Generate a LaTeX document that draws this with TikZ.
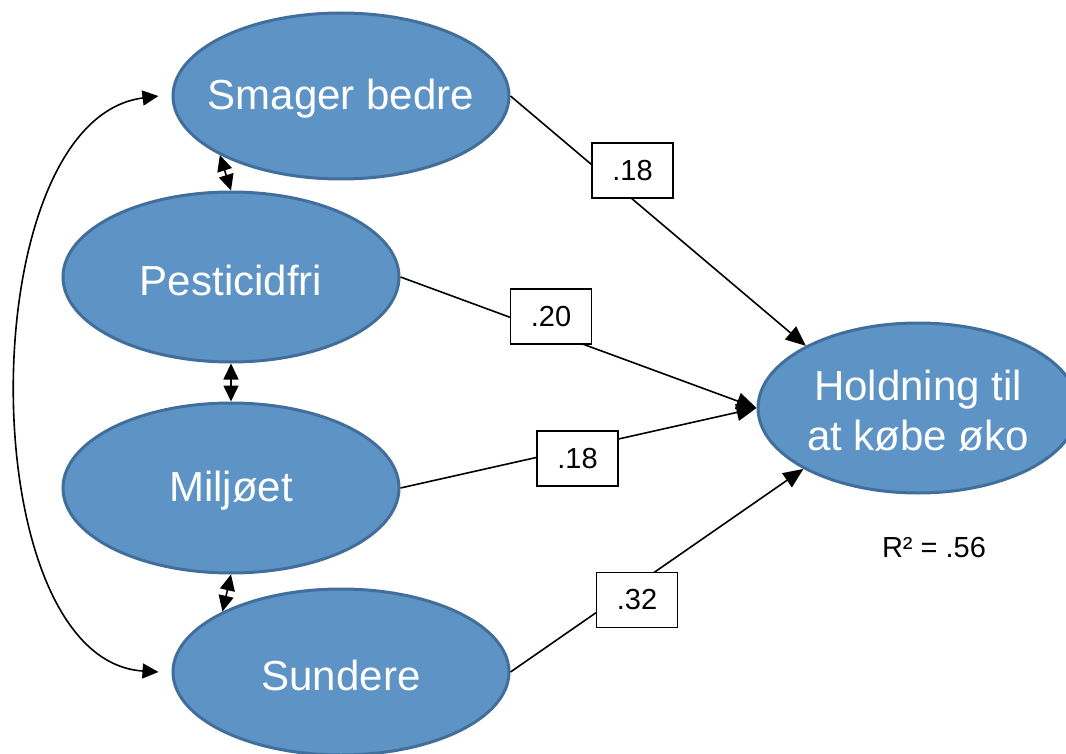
\documentclass[tikz,border=0pt]{standalone}
\usepackage{fontspec}
\setmainfont{Liberation Sans}
\usetikzlibrary{shapes.geometric,arrows.meta}
\definecolor{ellfill}{RGB}{94,147,198}
\definecolor{elldraw}{RGB}{66,110,156}
\begin{document}
\begin{tikzpicture}[x=1pt,y=-1pt,
 latent/.style={ellipse, draw=elldraw, fill=ellfill, line width=3pt, inner sep=0pt, minimum width=336pt, minimum height=166pt},
 lbl/.style={text=white, font=\fontsize{42}{50}\selectfont, align=center, yshift=-3pt},
 coef/.style={draw=black, fill=white, line width=1.2pt, minimum width=81pt, minimum height=55pt, inner sep=0pt, font=\fontsize{29}{34}\selectfont},
 effect/.style={line width=1.6pt, -{Triangle[length=20pt,width=17pt]}},
 cov/.style={line width=1.6pt, {Triangle[length=16pt,width=15pt]}-{Triangle[length=16pt,width=15pt]}}
]
\useasboundingbox (0,0) rectangle (1066,754);
\node[latent, label={[lbl]center:Smager bedre}] (smager) at (341,96) {};
\node[latent, minimum height=170pt, label={[lbl]center:Pesticidfri}] (pesti) at (231,277) {};
\node[latent, minimum height=170pt, label={[lbl]center:Miljøet}] (milj) at (231,488) {};
\node[latent, label={[lbl]center:Sundere}] (sund) at (341,672) {};
\node[latent, minimum width=320pt, minimum height=170pt, label={[lbl]center:{Holdning til\\at købe øko}}] (hold) at (918,408) {};
\node[font=\fontsize{29}{34}\selectfont] (r2) at (934,548) {R² = .56};

\draw[effect] (smager.east) -- (hold.151);
\draw[effect] (pesti.east) -- (hold.west);
\draw[effect] (milj.east) -- (hold.west);
\draw[effect] (sund.east) -- (hold.208);

\draw[cov] (smager.206) -- (pesti.north);
\draw[cov] (pesti.south) -- (milj.north);
\draw[cov] (milj.south) -- (sund.153);
\draw[cov] ([xshift=-13pt]smager.west) .. controls (-30,120) and (-30,660) .. ([xshift=-13pt]sund.west);

\node[coef] (c1) at (632.5,170.5) {.18};
\node[coef] (c2) at (551,316.5) {.20};
\node[coef] (c3) at (577.5,458.5) {.18};
\node[coef] (c4) at (637,600) {.32};
\end{tikzpicture}
\end{document}
